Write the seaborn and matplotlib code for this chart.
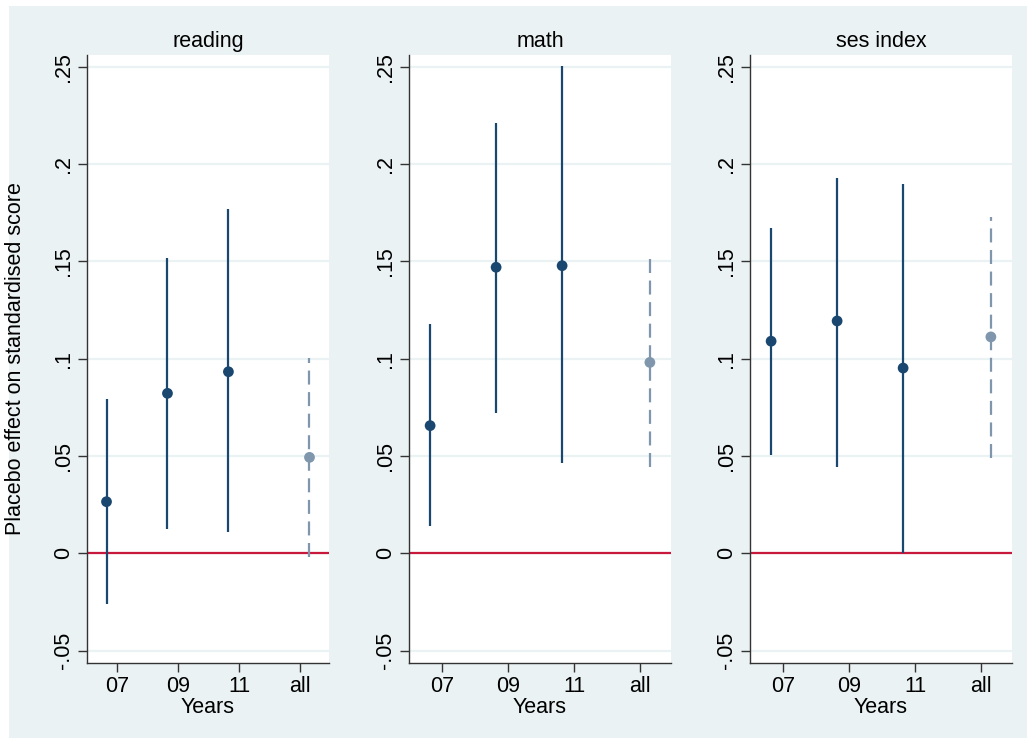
import numpy as np
import pandas as pd
import matplotlib
matplotlib.use("Agg")
import matplotlib.pyplot as plt
from matplotlib.patches import Rectangle
import seaborn as sns

# Placebo estimates with 95% confidence bounds, by outcome and cohort
periods = ["07", "09", "11", "all"]
outcomes = ["reading", "math", "ses index"]

reading_est = [0.0265, 0.0822, 0.0933, 0.0493]
reading_lo = [-0.026, 0.0125, 0.0108, -0.0019]
reading_hi = [0.0791, 0.152, 0.177, 0.1002]

math_est = [0.0656, 0.147, 0.1478, 0.0981]
math_lo = [0.0142, 0.0723, 0.0462, 0.0442]
math_hi = [0.1178, 0.2213, 0.2505, 0.1519]

ses_est = [0.109, 0.1194, 0.0952, 0.1112]
ses_lo = [0.0504, 0.0442, 0.0, 0.0488]
ses_hi = [0.167, 0.193, 0.190, 0.173]

yticks = [-0.05, 0, 0.05, 0.1, 0.15, 0.2, 0.25]
ytick_labels = ["-.05", "0", ".05", ".1", ".15", ".2", ".25"]

series = {
    "reading": (reading_est, reading_lo, reading_hi),
    "math": (math_est, math_lo, math_hi),
    "ses index": (ses_est, ses_lo, ses_hi),
}

sns.set_theme(style="white")
plt.rcParams["font.family"] = ["Liberation Sans", "DejaVu Sans"]
plt.rcParams["text.color"] = "black"
plt.rcParams["axes.labelcolor"] = "black"
plt.rcParams["xtick.color"] = "black"
plt.rcParams["ytick.color"] = "black"

BG = "#EAF2F3"
NAVY = "#1A476F"
LIGHT = "#7F96AD"
RED = "#C8183C"
FS = 15.5

fig = plt.figure(figsize=(10.27, 7.40), dpi=100)
fig.patch.set_facecolor("white")
fig.patches.append(Rectangle((9 / 1027, 2 / 740), 1 - 9 / 1027, (740 - 8) / 740,
                             transform=fig.transFigure, facecolor=BG,
                             edgecolor="none", zorder=-10))

W, H = 1027, 740
top_px, bot_px = 55, 663
panels_px = [(87, 329), (409, 671), (750, 1012)]

for i, name in enumerate(outcomes):
    l, r = panels_px[i]
    ax = fig.add_axes([l / W, (H - bot_px) / H, (r - l) / W, (bot_px - top_px) / H])
    ax.set_facecolor("white")
    est, lo, hi = series[name]
    # cohort estimates sit slightly left of their tick, the pooled one slightly right
    xpos = np.arange(1, 5) + np.array([-0.18, -0.18, -0.18, 0.15])
    df = pd.DataFrame({"x": xpos, "est": est, "lo": lo, "hi": hi,
                       "kind": ["year", "year", "year", "pooled"]})

    for yv in yticks:
        ax.axhline(yv, color=BG, lw=1.6, zorder=0)
    ax.axhline(0, color=RED, lw=1.6, zorder=1)

    yr = df[df.kind == "year"]
    pl = df[df.kind == "pooled"]
    ax.vlines(yr.x, yr.lo, yr.hi, color=NAVY, lw=1.6, zorder=2)
    ax.vlines(pl.x, pl.lo, pl.hi, color=LIGHT, lw=1.6, zorder=2,
              linestyles=[(0, (6.3, 3.4))])
    sns.scatterplot(data=yr, x="x", y="est", ax=ax, color=NAVY, s=60,
                    edgecolor="none", zorder=3, legend=False)
    sns.scatterplot(data=pl, x="x", y="est", ax=ax, color=LIGHT, s=60,
                    edgecolor="none", zorder=3, legend=False)

    ax.set_xlim(0.5, 4.47)
    ax.set_ylim(-0.0564, 0.2561)
    ax.set_xticks([1, 2, 3, 4])
    ax.set_xticklabels(periods, fontsize=FS)
    ax.set_yticks(yticks)
    ax.set_yticklabels(ytick_labels, fontsize=FS, rotation=90, va="center")
    ax.tick_params(axis="both", which="major", length=6.2, width=1.0,
                   color="#333333", labelcolor="black", direction="out",
                   left=True, bottom=True)
    ax.tick_params(axis="y", pad=3)
    ax.tick_params(axis="x", pad=3)
    for side in ["top", "right"]:
        ax.spines[side].set_visible(False)
    for side in ["left", "bottom"]:
        ax.spines[side].set_color("#333333")
        ax.spines[side].set_linewidth(1.0)
    ax.set_xlabel("Years", fontsize=FS, labelpad=0, color="black")
    ax.set_ylabel("")
    ax.set_title(name, fontsize=FS, pad=6, color="black")
    ax.grid(False)

fig.text(16 / W, 1 - 359 / H, "Placebo effect on standardised score",
         rotation=90, ha="center", va="center", fontsize=FS, color="black")

fig.savefig("out.png", dpi=100, facecolor=fig.get_facecolor())
